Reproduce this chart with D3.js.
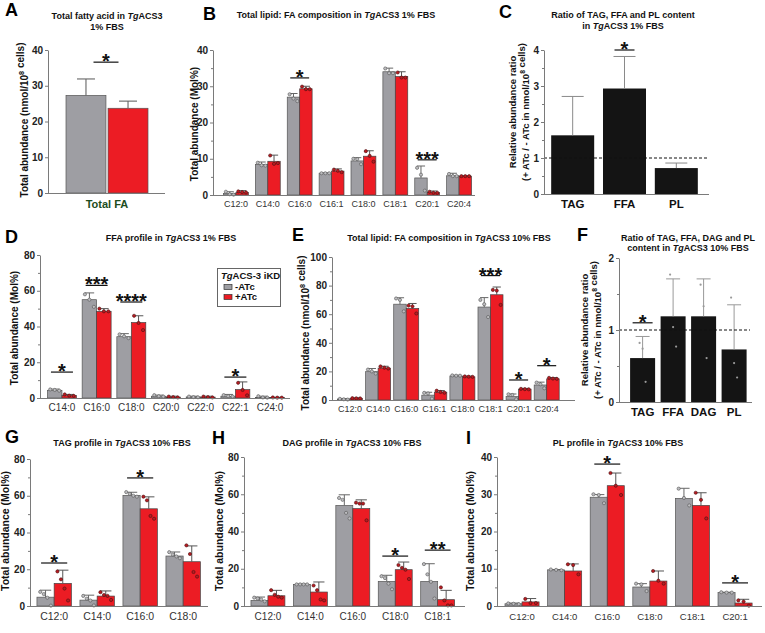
<!DOCTYPE html>
<html><head><meta charset="utf-8">
<script src="https://cdn.jsdelivr.net/npm/d3@7"></script>
<style>body{margin:0;background:#fff}</style></head>
<body><svg id="c" width="765" height="633"></svg>
<script>
// ---------------- DATA ----------------
// A
const catsA = ["Total FA"];
const grayA = [27.3];
const redA = [23.7];
const grayErrA = [31.9];
const redErrA = [25.7];
const sigA = [{label:"*", level:36.6}];
// B
const catsB = ["C12:0","C14:0","C16:0","C16:1","C18:0","C18:1","C20:1","C20:4"];
const grayB = [0.4, 8.4, 27.0, 6.0, 9.4, 34.0, 4.7, 5.3];
const redB = [0.7, 9.3, 29.3, 6.6, 10.7, 32.7, 0.7, 5.2];
const grayErrB = [0.9, 9.1, 28.0, 6.1, 10.3, 35.0, 8.0, 6.0];
const redErrB = [1.2, 11.0, 30.0, 7.2, 12.2, 34.0, 1.1, 5.3];
const grayDotsB = [[0.9,0.2,0.1],[8.9,8.2,8.1],[27.8,26.6,25.9],[6,6,6],[10,9.9,8.5],[34.9,33.6,33.6],[7.5,5.6,1.2],[5.8,5.2,5.2]];
const redDotsB = [[1.0,0.8,0.7],[10.9,8.6,8.8],[29.9,29.2,29.2],[7.0,6.7,6.3],[12.1,10.8,9.2],[33.8,32.4,32.4],[0.9,0.6,0.6],[5.2,5.2,5.2]];
const sigB = [{cat:"C16:0",label:"*",level:32.3},{cat:"C20:1",label:"***",level:9.7}];
// C
const catsC = ["TAG","FFA","PL"];
const valsC = [1.63, 2.93, 0.72];
const errC = [2.71, 3.82, 0.86];
const sigC = [{cat:"FFA",label:"*",level:4.0}];
// D
const catsD = ["C14:0","C16:0","C18:0","C20:0","C22:0","C22:1","C24:0"];
const grayD = [4.3, 55.0, 34.3, 1.0, 0.6, 1.0, 0.3];
const redD = [1.4, 48.5, 42.2, 0.5, 0.5, 4.7, 0.2];
const grayErrD = [5.0, 58.8, 36.0, 1.6, 1.0, 2.0, 1.0];
const redErrD = [2.0, 50.0, 46.0, 1.0, 1.0, 9.0, 0.4];
const grayDotsD = [[4.8,4.5,4.1],[58,55,51],[35.6,34.5,33.5],[1.6,1.0,0.8],[0.8,0.5,0.4],[1.6,1.0,0.8],[1.0,0.3,0.2]];
const redDotsD = [[2.0,1.3,1.2],[50,48.5,48.5],[46,42,38],[0.8,0.5,0.3],[0.8,0.5,0.3],[8.5,4.5,1.5],[0.3,0.2,0.2]];
const sigD = [{cat:"C14:0",label:"*",level:14.5},{cat:"C16:0",label:"***",level:63},{cat:"C18:0",label:"****",level:53.7},{cat:"C22:1",label:"*",level:11.7}];
// E
const catsE = ["C12:0","C14:0","C16:0","C16:1","C18:0","C18:1","C20:1","C20:4"];
const grayE = [0.7, 19.8, 67.0, 3.4, 16.8, 65.0, 2.4, 10.5];
const redE = [1.2, 22.3, 64.0, 5.5, 16.2, 73.6, 7.6, 14.8];
const grayErrE = [1.0, 22.0, 71.5, 5.4, 17.3, 71.6, 4.2, 12.5];
const redErrE = [1.5, 23.6, 67.5, 6.6, 16.7, 79.0, 8.1, 15.7];
const grayDotsE = [[0.8,0.5,0.3],[21.3,20,18.5],[71,70,62],[5,4.6,1],[17.2,17,17],[70,67,58],[4,3.5,0.5],[12.2,11,8.2]];
const redDotsE = [[1.3,1.2,1.1],[23.5,22.6,22],[66,65.5,60.5],[6.5,5.6,5.1],[16.5,16.3,16.2],[77,76.5,66.5],[7.8,7.6,7.5],[15.5,15,14.8]];
const sigE = [{cat:"C18:1",label:"***",level:87},{cat:"C20:1",label:"*",level:14},{cat:"C20:4",label:"*",level:24}];
// F
const catsF = ["TAG","FFA","DAG","PL"];
const valsF = [0.61, 1.19, 1.19, 0.73];
const errF = [0.91, 1.71, 1.71, 1.35];
const dotsF = [[0.82,0.74,0.28],[1.77,1.04,0.77],[1.63,1.33,0.61],[1.45,0.54,0.34]];
const sigF = [{cat:"TAG",label:"*",level:1.1}];
// G
const catsG = ["C12:0","C14:0","C16:0","C18:0"];
const grayG = [4.8, 3.2, 60.2, 27.2];
const redG = [12.3, 5.4, 52.9, 24.1];
const grayErrG = [8.6, 5.9, 61.9, 29.4];
const redErrG = [19.5, 8.2, 59.4, 32.7];
const grayDotsG = [[7.7,6.5,4.5,0.2],[5.5,4.0,3.0,0.3],[62,61,60,59.5],[29.3,28,27,26]];
const redDotsG = [[18.8,14.5,9.5,3.0],[7.5,6.0,5.5,3.3],[59.5,57.5,49,47.5],[33,28.3,18.5,16]];
const sigG = [{cat:"C12:0",label:"*",level:23.4},{cat:"C16:0",label:"*",level:69.7}];
// H
const catsH = ["C12:0","C14:0","C16:0","C18:0","C18:1"];
const grayH = [3.0, 11.6, 54.0, 13.2, 13.2];
const redH = [5.5, 7.5, 52.3, 19.5, 3.4];
const grayErrH = [4.8, 11.8, 59.7, 16.5, 22.7];
const redErrH = [8.4, 12.9, 57.0, 23.6, 8.4];
const grayDotsH = [[4.5,4.0,3.5,2.5],[11.6,11.6,11.6,11.6],[58,57,50,47],[16,15,12,9],[22.5,17,13,4]];
const redDotsH = [[8.5,6.0,5.0,4.5],[11,8.5,3.5,3.0],[55.5,55,55,46],[22,20.5,19.5,14.5],[10,3,0.3,0.3]];
const sigH = [{cat:"C18:0",label:"*",level:26.8},{cat:"C18:1",label:"**",level:30}];
// I
const catsI = ["C12:0","C14:0","C16:0","C18:0","C18:1","C20:1"];
const grayI = [0.6, 9.7, 29.2, 5.1, 28.9, 3.6];
const redI = [1.1, 9.4, 32.3, 6.7, 27.0, 0.8];
const grayErrI = [0.8, 9.8, 29.9, 6.0, 31.6, 3.7];
const redErrI = [2.0, 11.3, 35.7, 9.4, 30.4, 1.8];
const grayDotsI = [[0.7,0.6,0.5],[9.8,9.7,9.6],[30,29.8,27.6],[6,5.8,4.0],[31.5,29,27],[3.7,3.6,3.6]];
const redDotsI = [[1.9,0.8,0.8],[11.2,11.0,8.5],[35.7,32.3,29.8],[9.4,6.8,6.0],[30.4,28.5,23.5],[1.5,1.2,0.1]];
const sigI = [{cat:"C16:0",label:"*",level:38.1},{cat:"C20:1",label:"*",level:6.2}];

// ---------------- DRAWING ----------------
const FONT = '"Liberation Sans", Arial, sans-serif';
const GRAY = "#9e9ea3", RED = "#ec1c24", AXIS = "#7a7a7a";
const svg = d3.select("#c").attr("font-family", FONT);

function txt(x, y, parts, size, opts = {}) {
  const t = svg.append("text").attr("x", x).attr("y", y).attr("font-size", size)
    .attr("font-weight", opts.weight || "bold").attr("fill", opts.fill || "#111")
    .attr("text-anchor", opts.anchor || "middle");
  if (opts.rotate) t.attr("transform", `rotate(-90,${x},${y})`);
  parts.forEach(p => {
    if (typeof p === "string") t.append("tspan").text(p);
    else if (p.it) t.append("tspan").attr("font-style", "italic").text(p.it);
    else if (p.sup) { t.append("tspan").attr("dy", -size * 0.4).attr("font-size", size * 0.72).text(p.sup); t.append("tspan").attr("dy", size * 0.4).text(""); }
  });
  return t;
}
function letter(x, y, s) { txt(x, y, [s], 18, {anchor: "start", fill: "#000"}); }

function yAxis(y, x, ticks, minors) {
  const a = svg.append("g").attr("transform", `translate(${x},0)`)
    .call(d3.axisLeft(y).tickValues(ticks).tickSize(3).tickSizeOuter(0).tickPadding(2).tickFormat(d3.format("d")));
  a.select(".domain").attr("stroke", AXIS);
  a.selectAll(".tick line").attr("stroke", AXIS);
  a.selectAll(".tick text").attr("font-size", 10).attr("font-weight", "bold").attr("fill", "#222").attr("font-family", FONT);
  if (minors) {
    const m = svg.append("g").attr("transform", `translate(${x},0)`)
      .call(d3.axisLeft(y).tickValues(minors).tickSize(2).tickSizeOuter(0).tickFormat(""));
    m.select(".domain").remove();
    m.selectAll(".tick line").attr("stroke", AXIS);
  }
}
function xLine(x1, x2, y0) {
  svg.append("line").attr("x1", x1).attr("x2", x2).attr("y1", y0 + 0.5).attr("y2", y0 + 0.5).attr("stroke", AXIS);
}
function catLabels(x, y0, base, size, bold, fill) {
  const a = svg.append("g").attr("transform", `translate(0,${y0})`).call(d3.axisBottom(x).tickSize(0));
  a.select(".domain").remove();
  a.selectAll("text").attr("y", base - y0).attr("dy", 0).attr("font-size", size)
    .attr("font-family", FONT).attr("font-weight", bold ? "bold" : "normal").attr("fill", fill);
}
function sigMark(cx, yl, half, label) {
  svg.append("line").attr("x1", cx - half).attr("x2", cx + half).attr("y1", yl).attr("y2", yl).attr("stroke", "#111").attr("stroke-width", 1.2);
  svg.append("text").attr("x", cx).attr("y", yl + 6).attr("text-anchor", "middle").attr("font-size", 20)
    .attr("font-weight", "bold").attr("fill", "#111").text(label);
}

function drawGroup(o) {
  const y = d3.scaleLinear().domain([0, o.yMax]).range([o.y0, o.yTop]);
  const x = d3.scaleBand().domain(o.cats).range(o.range).paddingInner(o.pi).paddingOuter(o.po);
  const s = d3.scaleBand().domain(["gray", "red"]).range([0, x.bandwidth()]);
  const bw = s.bandwidth();
  const series = [
    {key: "gray", v: o.gray, e: o.grayErr, d: o.grayDots, fill: GRAY, stroke: "#555", ecol: "#666", dfill: "#bdbdc0", dstroke: "#555"},
    {key: "red", v: o.red, e: o.redErr, d: o.redDots, fill: RED, stroke: "#444", ecol: "#555", dfill: "#b81c22", dstroke: "#4a1010"}
  ];
  series.forEach(sr => {
    const data = o.cats.map((c, i) => ({c, v: sr.v[i], e: sr.e[i], d: sr.d ? (sr.d[i] || []) : []}));
    const cx = d => x(d.c) + s(sr.key) + bw / 2;
    svg.append("g").selectAll("rect").data(data).enter().append("rect")
      .attr("x", d => x(d.c) + s(sr.key)).attr("y", d => y(d.v)).attr("width", bw)
      .attr("height", d => o.y0 - y(d.v)).attr("fill", sr.fill).attr("stroke", sr.stroke).attr("stroke-width", 0.7);
    const eg = svg.append("g").attr("stroke", sr.ecol).attr("stroke-width", 1);
    eg.selectAll(".v").data(data).enter().append("line").attr("x1", cx).attr("x2", cx).attr("y1", d => y(d.v)).attr("y2", d => y(d.e));
    eg.selectAll(".h").data(data).enter().append("line").attr("x1", d => cx(d) - bw * 0.33).attr("x2", d => cx(d) + bw * 0.33).attr("y1", d => y(d.e)).attr("y2", d => y(d.e));
    const pts = [];
    data.forEach(d => d.d.forEach((v, j) => pts.push({x: cx(d) + (d.d.length > 1 ? (j / (d.d.length - 1) - 0.5) * bw * 0.62 : 0), y: y(v)})));
    svg.append("g").selectAll("circle").data(pts).enter().append("circle").attr("cx", p => p.x).attr("cy", p => p.y).attr("r", 1.6)
      .attr("fill", sr.dfill).attr("stroke", sr.dstroke).attr("stroke-width", 0.6);
  });
  yAxis(y, o.axX, o.ticks, o.minors);
  xLine(o.axX, o.axEnd, o.y0);
  catLabels(x, o.y0, o.labelBase, o.catFont, false, "#333");
  (o.sig || []).forEach(sg => sigMark(x(sg.cat) + x.bandwidth() / 2, y(sg.level), x.bandwidth() * 0.38, sg.label));
  return {x, y};
}

function drawRatio(o) {
  const y = d3.scaleLinear().domain([0, o.yMax]).range([o.y0, o.yTop]);
  const x = d3.scaleBand().domain(o.cats).range(o.range).paddingInner(o.pi).paddingOuter(o.po);
  const bw = x.bandwidth();
  const data = o.cats.map((c, i) => ({c, v: o.vals[i], e: o.err[i], d: o.dots ? o.dots[i] : []}));
  const cx = d => x(d.c) + bw / 2;
  svg.append("g").selectAll("rect").data(data).enter().append("rect")
    .attr("x", d => x(d.c)).attr("y", d => y(d.v)).attr("width", bw).attr("height", d => o.y0 - y(d.v)).attr("fill", "#141414");
  const eg = svg.append("g").attr("stroke", o.ecol).attr("stroke-width", 1);
  eg.selectAll(".v").data(data).enter().append("line").attr("x1", cx).attr("x2", cx).attr("y1", d => y(d.v)).attr("y2", d => y(d.e));
  eg.selectAll(".h").data(data).enter().append("line").attr("x1", d => cx(d) - o.cap).attr("x2", d => cx(d) + o.cap).attr("y1", d => y(d.e)).attr("y2", d => y(d.e));
  const pts = [];
  data.forEach(d => d.d.forEach((v, j) => pts.push({x: cx(d) + (j - 1) * 3, y: y(v)})));
  svg.append("g").selectAll("circle").data(pts).enter().append("circle").attr("cx", p => p.x).attr("cy", p => p.y).attr("r", 1.1).attr("fill", "#9a9a9a");
  svg.append("line").attr("x1", o.axX).attr("x2", o.dashEnd).attr("y1", y(1)).attr("y2", y(1)).attr("stroke", "#111").attr("stroke-dasharray", "3,2").attr("stroke-width", 1);
  yAxis(y, o.axX, o.ticks, o.minors);
  xLine(o.axX, o.axEnd, o.y0);
  catLabels(x, o.y0, o.labelBase, o.catFont, true, "#111");
  o.sig.forEach(sg => sigMark(x(sg.cat) + bw / 2, y(sg.level), 10, sg.label));
}

// ---- Panel A ----
letter(5, 16, "A");
txt(107, 19, ["Total fatty acid in ", {it: "Tg"}, "ACS3"], 9);
txt(107, 30, ["1% FBS"], 9);
{
  const y = d3.scaleLinear().domain([0, 40]).range([193, 50]);
  const x = d3.scaleBand().domain(["-ATc", "+ATc"]).range([66, 148]).paddingInner(0.05);
  const vals = [{k: "-ATc", v: grayA[0], e: grayErrA[0], f: GRAY}, {k: "+ATc", v: redA[0], e: redErrA[0], f: RED}];
  svg.append("g").selectAll("rect").data(vals).enter().append("rect").attr("x", d => x(d.k)).attr("y", d => y(d.v))
    .attr("width", x.bandwidth()).attr("height", d => 193 - y(d.v)).attr("fill", d => d.f).attr("stroke", "#555").attr("stroke-width", 0.7);
  const eg = svg.append("g").attr("stroke", "#666").attr("stroke-width", 1.1);
  vals.forEach(d => {
    const cx = x(d.k) + x.bandwidth() / 2;
    eg.append("line").attr("x1", cx).attr("x2", cx).attr("y1", y(d.v)).attr("y2", y(d.e));
    eg.append("line").attr("x1", cx - 9).attr("x2", cx + 9).attr("y1", y(d.e)).attr("y2", y(d.e));
  });
  yAxis(y, 48, [0, 10, 20, 30, 40], null);
  xLine(48, 165, 193);
  txt(107, 208, [catsA[0]], 11, {fill: "#1d4d1d"});
  sigMark(106, y(sigA[0].level), 12.5, sigA[0].label);
  txt(28, 120, ["Total abundance (nmol/10", {sup: "8"}, " cells)"], 10, {rotate: true});
}

// ---- Panel B ----
letter(203, 20, "B");
txt(336, 18, ["Total lipid: FA composition in ", {it: "Tg"}, "ACS3 1% FBS"], 9);
drawGroup({cats: catsB, gray: grayB, red: redB, grayErr: grayErrB, redErr: redErrB, grayDots: grayDotsB, redDots: redDotsB, sig: sigB,
  yMax: 40, y0: 195, yTop: 50, axX: 213, axEnd: 475, ticks: [0, 10, 20, 30, 40], minors: [5, 15, 25, 35],
  range: [220, 475], pi: 0.22, po: 0.11, labelBase: 207, catFont: 9});
txt(198, 124, ["Total abundance (Mol%)"], 10, {rotate: true});

// ---- Panel C ----
letter(499, 18, "C");
txt(623, 18, ["Ratio of TAG, FFA and PL content"], 9);
txt(623, 29, ["in ", {it: "Tg"}, "ACS3 1% FBS"], 9);
drawRatio({cats: catsC, vals: valsC, err: errC, sig: sigC, yMax: 4, y0: 194, yTop: 50, axX: 544, axEnd: 709, dashEnd: 709,
  ticks: [0, 1, 2, 3, 4], minors: [0.5, 1.5, 2.5, 3.5], range: [546, 703], pi: 0.17, po: 0.1, labelBase: 208, catFont: 11.5, cap: 11, ecol: "#8a8a8a"});
txt(516, 112, ["Relative abundance ratio"], 9.5, {rotate: true});
txt(529, 112, ["(+ ATc / - ATc in nmol/10", {sup: "8"}, " cells)"], 9.5, {rotate: true});

// ---- Panel D ----
letter(5, 243, "D");
txt(171, 241, ["FFA profile in ", {it: "Tg"}, "ACS3 1% FBS"], 9);
drawGroup({cats: catsD, gray: grayD, red: redD, grayErr: grayErrD, redErr: redErrD, grayDots: grayDotsD, redDots: redDotsD, sig: sigD,
  yMax: 80, y0: 398, yTop: 255, axX: 40, axEnd: 290, ticks: [0, 20, 40, 60, 80], minors: [10, 30, 50, 70],
  range: [44, 288], pi: 0.165, po: 0.1, labelBase: 411, catFont: 10});
txt(18, 328, ["Total abundance (Mol%)"], 10, {rotate: true});
// legend
svg.append("rect").attr("x", 217.5).attr("y", 268.5).attr("width", 63).attr("height", 38).attr("fill", "#fff").attr("stroke", "#666");
txt(221, 279, [{it: "Tg"}, "ACS-3 iKD"], 9.5, {anchor: "start"});
svg.append("rect").attr("x", 224).attr("y", 284.5).attr("width", 8).attr("height", 5).attr("fill", GRAY).attr("stroke", "#333").attr("stroke-width", 0.7);
svg.append("rect").attr("x", 224).attr("y", 294.5).attr("width", 8).attr("height", 5).attr("fill", RED).attr("stroke", "#333").attr("stroke-width", 0.7);
txt(235, 290, ["-ATc"], 9.5, {anchor: "start"});
txt(235, 300, ["+ATc"], 9.5, {anchor: "start"});

// ---- Panel E ----
letter(292, 241, "E");
txt(449, 241, ["Total lipid: FA composition in ", {it: "Tg"}, "ACS3 10% FBS"], 9);
drawGroup({cats: catsE, gray: grayE, red: redE, grayErr: grayErrE, redErr: redErrE, grayDots: grayDotsE, redDots: redDotsE, sig: sigE,
  yMax: 100, y0: 400, yTop: 257, axX: 332, axEnd: 575, ticks: [0, 20, 40, 60, 80, 100], minors: [10, 30, 50, 70, 90],
  range: [334.7, 562], pi: 0.11, po: 0.1, labelBase: 412, catFont: 9});
txt(309, 333, ["Total abundance (nmol/10", {sup: "8"}, " cells)"], 10, {rotate: true});

// ---- Panel F ----
letter(577, 241, "F");
txt(688, 241, ["Ratio of TAG, FFA, DAG and PL"], 9);
txt(688, 251, ["content in ", {it: "Tg"}, "ACS3 10% FBS"], 9);
drawRatio({cats: catsF, vals: valsF, err: errF, dots: dotsF, sig: sigF, yMax: 2, y0: 402, yTop: 258, axX: 619, axEnd: 752, dashEnd: 750,
  ticks: [0, 1, 2], minors: [0.5, 1.5], range: [624, 752.7], pi: 0.18, po: 0.2, labelBase: 416, catFont: 11.5, cap: 7, ecol: "#999"});
txt(588, 330, ["Relative abundance ratio"], 9.5, {rotate: true});
txt(601, 330, ["(+ ATc / - ATc in nmol/10", {sup: "8"}, " cells)"], 9.5, {rotate: true});

// ---- Panel G ----
letter(5, 443, "G");
txt(122, 446, ["TAG  profile in ", {it: "Tg"}, "ACS3 10% FBS"], 9);
drawGroup({cats: catsG, gray: grayG, red: redG, grayErr: grayErrG, redErr: redErrG, grayDots: grayDotsG, redDots: redDotsG, sig: sigG,
  yMax: 80, y0: 606, yTop: 459, axX: 30, axEnd: 208, ticks: [0, 20, 40, 60, 80], minors: [10, 30, 50, 70],
  range: [30.5, 206.8], pi: 0.2, po: 0.15, labelBase: 620, catFont: 10.5});
txt(9, 531, ["Total abundance (Mol%)"], 10.5, {rotate: true});

// ---- Panel H ----
letter(212, 444, "H");
txt(352, 446, ["DAG profile in ", {it: "Tg"}, "ACS3 10% FBS"], 9);
drawGroup({cats: catsH, gray: grayH, red: redH, grayErr: grayErrH, redErr: redErrH, grayDots: grayDotsH, redDots: redDotsH, sig: sigH,
  yMax: 80, y0: 606, yTop: 457, axX: 244, axEnd: 465, ticks: [0, 20, 40, 60, 80], minors: [10, 30, 50, 70],
  range: [244.6, 461], pi: 0.2, po: 0.15, labelBase: 620, catFont: 10});
txt(223, 531, ["Total abundance (Mol%)"], 10.5, {rotate: true});

// ---- Panel I ----
letter(466, 444, "I");
txt(618, 446, ["PL profile in ", {it: "Tg"}, "ACS3 10% FBS"], 9);
drawGroup({cats: catsI, gray: grayI, red: redI, grayErr: grayErrI, redErr: redErrI, grayDots: grayDotsI, redDots: redDotsI, sig: sigI,
  yMax: 40, y0: 606, yTop: 457, axX: 497, axEnd: 762, ticks: [0, 10, 20, 30, 40], minors: [5, 15, 25, 35],
  range: [498.6, 758.5], pi: 0.2, po: 0.15, labelBase: 620, catFont: 9.5});
txt(474, 531, ["Total abundance (Mol%)"], 10.5, {rotate: true});
</script></body></html>
